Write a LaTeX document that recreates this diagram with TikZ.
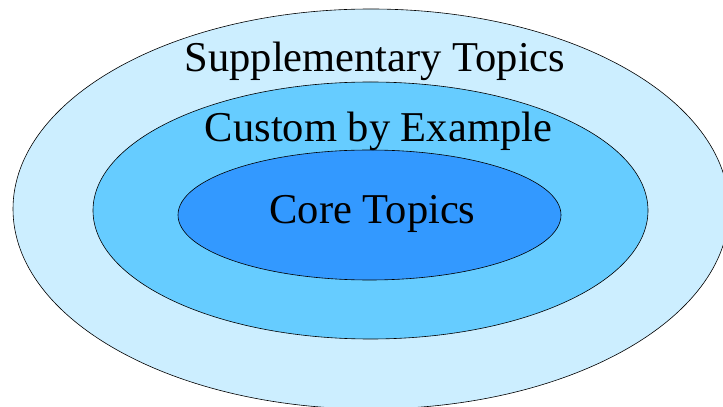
\documentclass[tikz,border=0pt]{standalone}
\usepackage{fontspec}
\setmainfont{Liberation Serif}
\usetikzlibrary{shapes.geometric}
\definecolor{outerc}{HTML}{CCEEFF}
\definecolor{midc}{HTML}{66CCFF}
\definecolor{innerc}{HTML}{3399FF}
\begin{document}
\begin{tikzpicture}[x=1pt,y=1pt,
  ring/.style={ellipse, draw=black, line width=0.6pt, inner sep=0pt},
  lbl/.style={font=\fontsize{42.5}{46}\selectfont, text=black, inner sep=0pt, anchor=base}]
\useasboundingbox (0,0) rectangle (723,407);
\clip (0,0) rectangle (723,407);
\node[ring, fill=outerc, minimum width=716, minimum height=400] (outer) at (371,198) {};
\node[ring, fill=midc, minimum width=555, minimum height=257] (middle) at (370.5,196.5) {};
\node[ring, fill=innerc, minimum width=383, minimum height=130] (inner) at (369.5,192) {};
\node[lbl] (t1) at (375,335) {Supplementary Topics};
\node[lbl] (t2) at (378.5,265) {Custom by Example};
\node[lbl] (t3) at (372.5,183) {Core Topics};
\end{tikzpicture}
\end{document}
